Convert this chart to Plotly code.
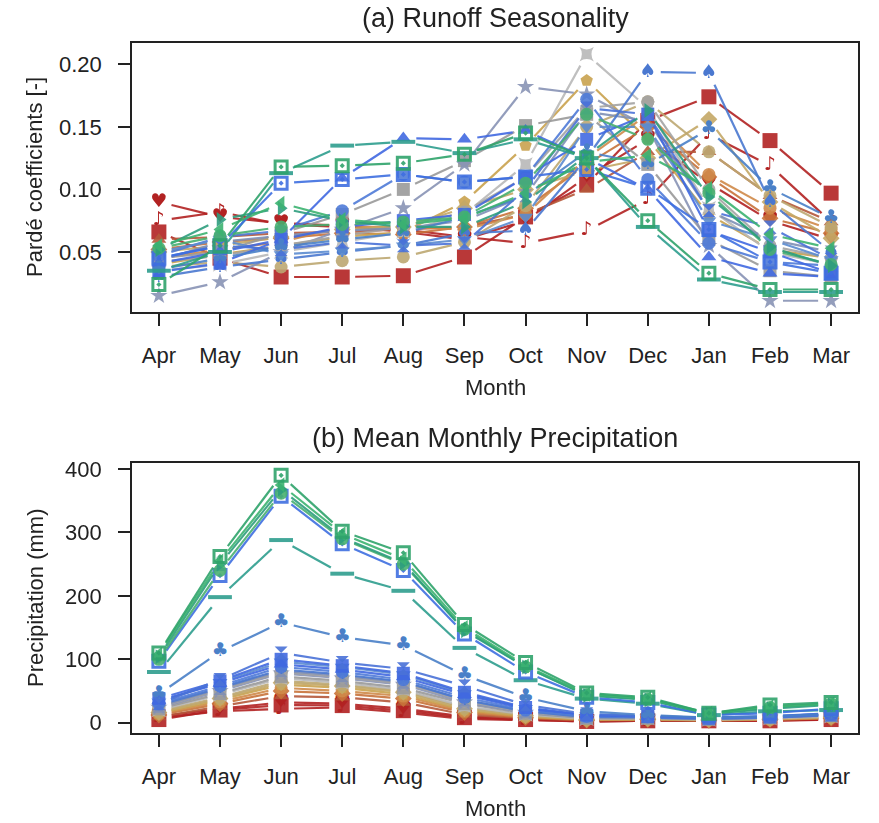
import plotly.graph_objects as go

months = ["Apr", "May", "Jun", "Jul", "Aug", "Sep", "Oct", "Nov", "Dec", "Jan", "Feb", "Mar"]

# Each series: runoff Pardé coefficients (_r) and precipitation in mm (_p)
red_square_r = [0.066, 0.045, 0.030, 0.030, 0.031, 0.046, 0.078, 0.104, 0.155, 0.174, 0.139, 0.097]
red_square_p = [5, 20, 28, 27, 19, 8, 5, 2, 3, 3, 3, 5]

red_note_r = [0.075, 0.082, 0.072, 0.070, 0.068, 0.062, 0.057, 0.067, 0.092, 0.144, 0.119, 0.074]
red_note_p = [8, 18, 22, 24, 16, 6, 4, 2, 3, 3, 4, 5]

red_heart_r = [0.090, 0.078, 0.073, 0.071, 0.066, 0.060, 0.075, 0.110, 0.140, 0.105, 0.075, 0.060]
red_heart_p = [10, 22, 32, 30, 22, 10, 6, 3, 4, 3, 4, 6]

sienna_r = [0.060, 0.062, 0.065, 0.066, 0.068, 0.070, 0.080, 0.100, 0.130, 0.130, 0.095, 0.074]
sienna_p = [9, 26, 42, 40, 32, 13, 7, 4, 4, 3, 5, 7]

orange_dia_r = [0.052, 0.058, 0.061, 0.065, 0.064, 0.070, 0.085, 0.120, 0.150, 0.110, 0.077, 0.065]
orange_dia_p = [12, 30, 50, 46, 38, 16, 8, 4, 5, 4, 5, 7]

orange_circ_r = [0.045, 0.052, 0.058, 0.070, 0.070, 0.068, 0.080, 0.125, 0.160, 0.112, 0.085, 0.068]
orange_circ_p = [14, 33, 55, 50, 42, 18, 9, 5, 6, 4, 5, 8]

tan_shield_r = [0.040, 0.048, 0.055, 0.062, 0.066, 0.090, 0.135, 0.187, 0.140, 0.080, 0.052, 0.045]
tan_shield_p = [15, 36, 60, 55, 45, 20, 10, 5, 5, 4, 6, 8]

tan_dia_r = [0.050, 0.055, 0.062, 0.068, 0.070, 0.085, 0.100, 0.115, 0.125, 0.156, 0.090, 0.061]
tan_dia_p = [16, 38, 63, 58, 48, 22, 11, 5, 6, 5, 6, 9]

khaki_r = [0.038, 0.042, 0.038, 0.043, 0.046, 0.058, 0.087, 0.150, 0.170, 0.130, 0.095, 0.070]
khaki_p = [18, 40, 66, 60, 50, 24, 12, 6, 6, 5, 6, 9]

lgray_r = [0.035, 0.040, 0.050, 0.058, 0.066, 0.080, 0.120, 0.208, 0.165, 0.085, 0.050, 0.040]
lgray_p = [20, 44, 70, 63, 52, 26, 13, 6, 7, 5, 7, 10]

gray_sq_r = [0.045, 0.050, 0.065, 0.080, 0.100, 0.123, 0.151, 0.160, 0.120, 0.060, 0.035, 0.030]
gray_sq_p = [22, 46, 73, 66, 55, 30, 15, 7, 7, 6, 8, 11]

star_r = [0.015, 0.026, 0.050, 0.068, 0.085, 0.120, 0.182, 0.176, 0.150, 0.055, 0.011, 0.011]
star_p = [24, 50, 78, 70, 60, 32, 16, 8, 8, 6, 8, 12]

gray_circ_r = [0.042, 0.047, 0.055, 0.063, 0.070, 0.082, 0.110, 0.165, 0.170, 0.100, 0.055, 0.045]
gray_circ_p = [25, 52, 80, 72, 62, 34, 17, 8, 8, 6, 8, 12]

slate_hg_r = [0.043, 0.058, 0.063, 0.067, 0.069, 0.075, 0.095, 0.162, 0.155, 0.083, 0.060, 0.050]
slate_hg_p = [26, 54, 82, 74, 64, 36, 18, 9, 9, 6, 9, 12]

spade_r = [0.030, 0.038, 0.044, 0.050, 0.055, 0.065, 0.067, 0.125, 0.194, 0.193, 0.090, 0.050]
spade_p = [28, 55, 84, 76, 65, 36, 18, 9, 8, 6, 8, 12]

blue_circ_r = [0.047, 0.062, 0.067, 0.083, 0.112, 0.106, 0.110, 0.172, 0.108, 0.057, 0.042, 0.039]
blue_circ_p = [30, 58, 88, 80, 68, 40, 20, 10, 9, 7, 9, 13]

blue_tdown_r = [0.050, 0.060, 0.048, 0.051, 0.055, 0.060, 0.078, 0.150, 0.150, 0.075, 0.060, 0.044]
blue_tdown_p = [33, 64, 96, 88, 76, 46, 23, 11, 10, 7, 9, 13]

blue_tri_r = [0.041, 0.050, 0.060, 0.109, 0.141, 0.140, 0.147, 0.125, 0.100, 0.046, 0.033, 0.030]
blue_tri_p = [35, 62, 92, 84, 72, 44, 22, 12, 10, 8, 10, 14]

blue_sq_r = [0.034, 0.041, 0.060, 0.070, 0.075, 0.080, 0.110, 0.140, 0.160, 0.067, 0.050, 0.033]
blue_sq_p = [38, 66, 100, 90, 78, 48, 24, 12, 10, 8, 10, 15]

blue_hg_r = [0.045, 0.055, 0.052, 0.058, 0.055, 0.057, 0.100, 0.165, 0.160, 0.083, 0.070, 0.044]
blue_hg_p = [30, 68, 110, 95, 85, 58, 28, 14, 10, 7, 9, 12]

club_r = [0.036, 0.045, 0.054, 0.060, 0.065, 0.078, 0.095, 0.130, 0.120, 0.148, 0.101, 0.077]
club_p = [45, 112, 158, 135, 122, 75, 40, 18, 12, 8, 10, 14]

teal_dash_r = [0.035, 0.050, 0.113, 0.135, 0.138, 0.129, 0.140, 0.125, 0.070, 0.028, 0.018, 0.018]
teal_dash_p = [80, 198, 288, 235, 208, 118, 67, 38, 30, 12, 18, 20]

blue_sqdot_r = [0.045, 0.055, 0.105, 0.108, 0.112, 0.106, 0.110, 0.116, 0.101, 0.068, 0.042, 0.033]
blue_sqdot_p = [97, 232, 357, 282, 240, 140, 80, 40, 32, 12, 15, 22]

green_circ_r = [0.053, 0.063, 0.070, 0.072, 0.074, 0.078, 0.105, 0.160, 0.140, 0.097, 0.052, 0.040]
green_circ_p = [100, 240, 362, 290, 250, 147, 88, 44, 37, 14, 24, 30]

green_tright_r = [0.052, 0.076, 0.085, 0.075, 0.070, 0.070, 0.090, 0.127, 0.163, 0.094, 0.054, 0.039]
green_tright_p = [104, 250, 368, 292, 252, 145, 88, 43, 36, 14, 22, 28]

green_tleft_r = [0.055, 0.068, 0.089, 0.076, 0.072, 0.077, 0.097, 0.122, 0.127, 0.101, 0.064, 0.053]
green_tleft_p = [108, 255, 375, 298, 258, 150, 90, 45, 38, 15, 25, 30]

green_sqdot_r = [0.024, 0.055, 0.118, 0.119, 0.121, 0.128, 0.145, 0.125, 0.075, 0.033, 0.020, 0.020]
green_sqdot_p = [110, 262, 390, 302, 268, 155, 95, 47, 40, 15, 28, 32]

series = [
    ("#B22222", "square", red_square_r, red_square_p),
    ("#B22222", "♪", red_note_r, red_note_p),
    ("#B22222", "♥", red_heart_r, red_heart_p),
    ("#B5583A", "triangle-up", sienna_r, sienna_p),
    ("#C8733A", "diamond", orange_dia_r, orange_dia_p),
    ("#D08A4A", "circle", orange_circ_r, orange_circ_p),
    ("#C9A24E", "pentagon", tan_shield_r, tan_shield_p),
    ("#C4A866", "diamond", tan_dia_r, tan_dia_p),
    ("#BDA872", "circle", khaki_r, khaki_p),
    ("#B8B8B8", "star-square", lgray_r, lgray_p),
    ("#9A9A9A", "square", gray_sq_r, gray_sq_p),
    ("#8893B5", "star", star_r, star_p),
    ("#A3A3A3", "circle", gray_circ_r, gray_circ_p),
    ("#7F8FB5", "hourglass", slate_hg_r, slate_hg_p),
    ("#4A78D0", "♠", spade_r, spade_p),
    ("#4F7BD8", "circle", blue_circ_r, blue_circ_p),
    ("#5B8BD0", "triangle-down", blue_tdown_r, blue_tdown_p),
    ("#4169E1", "triangle-up", blue_tri_r, blue_tri_p),
    ("#4169E1", "square", blue_sq_r, blue_sq_p),
    ("#4A72D8", "hourglass", blue_hg_r, blue_hg_p),
    ("#4A80C8", "♣", club_r, club_p),
    ("#2E9E8E", "line-ew", teal_dash_r, teal_dash_p),
    ("#3F6FE0", "square-open-dot", blue_sqdot_r, blue_sqdot_p),
    ("#48B070", "circle", green_circ_r, green_circ_p),
    ("#2E9E7E", "triangle-right", green_tright_r, green_tright_p),
    ("#3CB371", "triangle-left", green_tleft_r, green_tleft_p),
    ("#2FA36B", "square-open-dot", green_sqdot_r, green_sqdot_p),
]

# plot geometry (pixels) used to leave R-style "type b" gaps around points
L, R, T, B = 132, 21, 43, 90
W, H = 879, 823
px_per_month = 61.2
top_scale = 1251.0      # px per unit Pardé coefficient
bot_scale = 0.634       # px per mm
GAP = 13.0


def gapped(vals, sy):
    xs, ys = [], []
    for i in range(len(vals) - 1):
        y1, y2 = vals[i], vals[i + 1]
        dy = (y2 - y1) * sy
        length = (px_per_month ** 2 + dy ** 2) ** 0.5
        t = min(GAP / length, 0.45)
        xs += [i + t, i + 1 - t, None]
        ys += [y1 + t * (y2 - y1), y2 - t * (y2 - y1), None]
    return xs, ys


fig = go.Figure()
xidx = list(range(len(months)))

for color, sym, rvals, pvals in series:
    for vals, sy, xa, ya in [(rvals, top_scale, "x", "y"), (pvals, bot_scale, "x2", "y2")]:
        gx, gy = gapped(vals, sy)
        fig.add_trace(go.Scatter(x=gx, y=gy, mode="lines", xaxis=xa, yaxis=ya,
                                 line=dict(color=color, width=2.2), opacity=0.9,
                                 hoverinfo="skip", showlegend=False))
        if len(sym) == 1:
            fig.add_trace(go.Scatter(x=xidx, y=vals, mode="markers+text", text=[sym] * len(vals),
                                     xaxis=xa, yaxis=ya, textposition="middle center",
                                     marker=dict(size=1, color="rgba(0,0,0,0)"),
                                     textfont=dict(color=color, size=19, family="DejaVu Sans"),
                                     showlegend=False))
        else:
            mk = dict(color=color, size=13, symbol=sym, line=dict(width=0, color=color))
            if sym == "line-ew":
                mk = dict(color=color, size=17, symbol=sym, line=dict(width=4, color=color))
            elif "open" in sym:
                mk = dict(color=color, size=12, symbol=sym, line=dict(width=3, color=color))
            elif sym == "square" and color == "#B22222":
                mk["size"] = 15
            fig.add_trace(go.Scatter(x=xidx, y=vals, mode="markers", xaxis=xa, yaxis=ya,
                                     marker=mk, opacity=0.9, showlegend=False))

font_fam = "Liberation Sans, Arial, sans-serif"
axis_common = dict(showline=True, linecolor="#222", linewidth=1.6, mirror=True,
                   ticks="outside", ticklen=12, tickwidth=1.6, tickcolor="#222",
                   showgrid=False, zeroline=False,
                   tickfont=dict(size=22, color="#222", family=font_fam))

fig.update_layout(
    width=W, height=H, margin=dict(l=L, r=R, t=T, b=B),
    paper_bgcolor="white", plot_bgcolor="white",
    xaxis=dict(axis_common, domain=[0, 1], anchor="y", range=[-0.44, 11.44],
               tickvals=xidx, ticktext=months, ticklabelstandoff=11),
    yaxis=dict(axis_common, domain=[0.6101, 1], anchor="x", range=[0.002, 0.217],
               tickvals=[0.05, 0.10, 0.15, 0.20], ticktext=["0.05", "0.10", "0.15", "0.20"],
               ticklabelstandoff=12),
    xaxis2=dict(axis_common, domain=[0, 1], anchor="y2", range=[-0.44, 11.44],
                tickvals=xidx, ticktext=months, ticklabelstandoff=11),
    yaxis2=dict(axis_common, domain=[0, 0.3913], anchor="x2", range=[-16.2, 409.5],
                tickvals=[0, 100, 200, 300, 400], ticklabelstandoff=12),
)


def px(x):
    return (x - L) / (W - L - R)


def py(y):
    return (H - B - y) / (H - T - B)


ann = [
    dict(text="(a) Runoff Seasonality", x=px(495), y=py(18), size=27, angle=0),
    dict(text="(b) Mean Monthly Precipitation", x=px(495), y=py(438), size=27, angle=0),
    dict(text="Month", x=px(495), y=py(387), size=22, angle=0),
    dict(text="Month", x=px(495), y=py(808), size=22, angle=0),
    dict(text="Pardé coefficients [-]", x=px(35), y=py(177), size=22, angle=-90),
    dict(text="Precipitation (mm)", x=px(35), y=py(598), size=22, angle=-90),
]
for a in ann:
    fig.add_annotation(text=a["text"], x=a["x"], y=a["y"], xref="paper", yref="paper",
                       xanchor="center", yanchor="middle", showarrow=False,
                       textangle=a["angle"], font=dict(size=a["size"], color="#222", family=font_fam))

fig.write_html("out.html")
